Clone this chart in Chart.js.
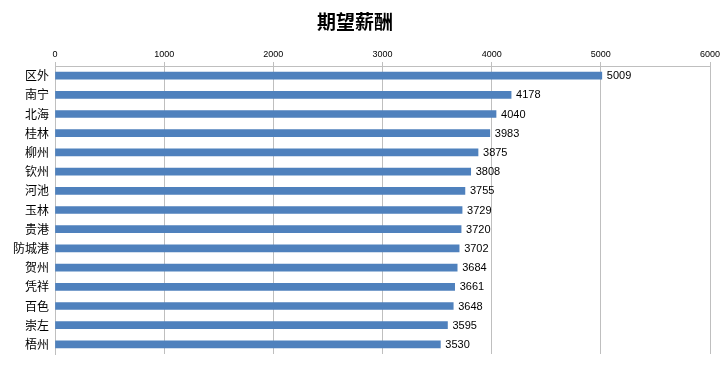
<!DOCTYPE html>
<html>
<head>
<meta charset="utf-8">
<script src="https://cdn.jsdelivr.net/npm/chart.js@4/dist/chart.umd.min.js"></script>
<style>
html,body{margin:0;padding:0;background:#fff;}
#wrap{width:726px;height:372px;}
</style>
</head>
<body>
<div id="wrap"><canvas id="c" width="726" height="372"></canvas></div>
<script>
const categories = ["区外","南宁","北海","桂林","柳州","钦州","河池","玉林","贵港","防城港","贺州","凭祥","百色","崇左","梧州"];
const salaryValues = [5009,4178,4040,3983,3875,3808,3755,3729,3720,3702,3684,3661,3648,3595,3530];
const xTicks = [0,1000,2000,3000,4000,5000,6000];
const chartTitle = "期望薪酬";

const valueLabels = {
  id: 'valueLabels',
  afterDatasetsDraw(chart) {
    const ctx = chart.ctx;
    const meta = chart.getDatasetMeta(0);
    ctx.save();
    ctx.font = '11px "Liberation Sans", Arial, sans-serif';
    ctx.fillStyle = '#000';
    ctx.textAlign = 'left';
    ctx.textBaseline = 'middle';
    meta.data.forEach((bar, i) => {
      ctx.fillText(String(salaryValues[i]), bar.x + 5, bar.y + 0.5);
    });
    ctx.restore();
  }
};

new Chart(document.getElementById('c'), {
  type: 'bar',
  data: {
    labels: categories,
    datasets: [{
      data: salaryValues,
      backgroundColor: '#4F81BD',
      borderWidth: 0,
      barThickness: 7
    }]
  },
  options: {
    indexAxis: 'y',
    responsive: false,
    animation: false,
    devicePixelRatio: 1,
    layout: { padding: { top: 0, left: 0, right: 16, bottom: 18 } },
    plugins: {
      legend: { display: false },
      tooltip: { enabled: false },
      title: {
        display: true,
        text: chartTitle,
        color: '#000',
        font: { family: '"Noto Sans CJK SC", sans-serif', size: 19, weight: 'bold', lineHeight: 1.2 },
        padding: { top: 10, bottom: 13.2 }
      }
    },
    scales: {
      x: {
        position: 'top',
        min: 0,
        max: 6000,
        afterBuildTicks(scale) { scale.ticks = xTicks.map(v => ({ value: v })); },
        afterFit(scale) { scale.height = 20; },
        ticks: {
          color: '#000',
          font: { family: '"Liberation Sans", Arial, sans-serif', size: 9 },
          padding: 2,
          maxRotation: 0,
          callback: (v) => String(v)
        },
        grid: {
          color: '#BFBFBF',
          lineWidth: 1,
          tickLength: 4,
          drawTicks: true
        },
        border: { display: true, color: '#BFBFBF' }
      },
      y: {
        afterFit(scale) { scale.width = 55; },
        ticks: {
          color: '#000',
          font: { family: '"Noto Sans CJK SC", sans-serif', size: 12 },
          padding: 6,
          autoSkip: false
        },
        grid: { display: false, drawTicks: false },
        border: { display: true, color: '#BFBFBF' }
      }
    }
  },
  plugins: [valueLabels]
});
</script>
</body>
</html>
